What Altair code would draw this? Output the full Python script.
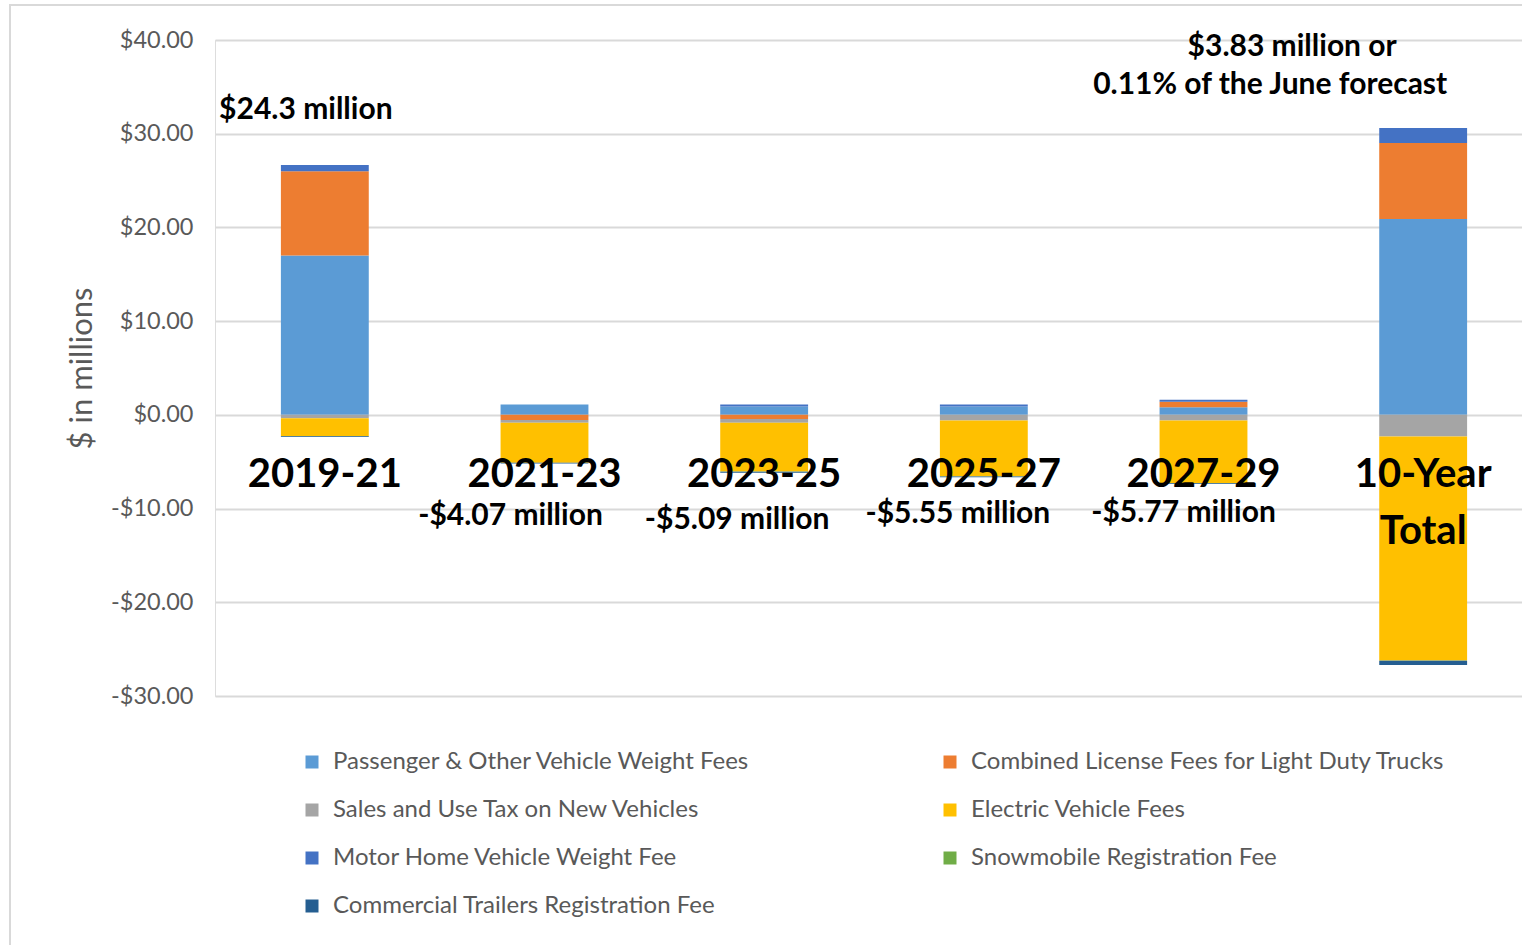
import altair as alt
import pandas as pd

categories = ["2019-21", "2021-23", "2023-25", "2025-27", "2027-29", "10-Year Total"]
cat_labels = ["2019-21", "2021-23", "2023-25", "2025-27", "2027-29", "10-Year\nTotal"]

series = [
    "Passenger & Other Vehicle Weight Fees",
    "Combined License Fees for Light Duty Trucks",
    "Sales and Use Tax on New Vehicles",
    "Electric Vehicle Fees",
    "Motor Home Vehicle Weight Fee",
    "Snowmobile Registration Fee",
    "Commercial Trailers Registration Fee",
]
colors = ["#5B9BD5", "#ED7D31", "#A5A5A5", "#FFC000", "#4472C4", "#70AD47", "#255E91"]

# legend is laid out column by column: left column first, then right column
legend_order = [0, 2, 4, 6, 1, 3, 5]

passenger = [17.0, 1.1, 0.9, 0.9, 0.8, 20.9]
combined = [9.0, -0.55, -0.45, 0.0, 0.6, 8.1]
sales_tax = [-0.35, -0.3, -0.4, -0.6, -0.6, -2.3]
electric = [-1.9, -4.25, -5.2, -5.95, -6.67, -23.9]
motor_home = [0.65, 0.0, 0.2, 0.2, 0.2, 1.6]
snowmobile = [-0.02, -0.02, -0.02, -0.02, -0.02, -0.05]
commercial = [-0.1, -0.07, -0.1, -0.08, -0.1, -0.45]

all_values = [passenger, combined, sales_tax, electric, motor_home, snowmobile, commercial]

rows = []
for si, s in enumerate(series):
    for ci, c in enumerate(categories):
        rows.append({"category": c, "series": s, "value": all_values[si][ci], "ord": si})
df = pd.DataFrame(rows)

FONT = "Lato"
GRAY = "#595959"

xscale = alt.Scale(domain=categories, range=[0, 1318], paddingInner=0.6, paddingOuter=0.3)
yscale = alt.Scale(domain=[-30, 40], nice=False, zero=False)

legend_domain = [series[i] for i in legend_order]
legend_range = [colors[i] for i in legend_order]

bars = alt.Chart(df).mark_bar().encode(
    x=alt.X("category:N", scale=xscale, axis=None, sort=categories),
    y=alt.Y(
        "value:Q",
        scale=yscale,
        stack="zero",
        axis=alt.Axis(
            values=[-30, -20, -10, 0, 10, 20, 30, 40],
            labelExpr="datum.value < 0 ? '-$' + format(abs(datum.value), '.2f') : '$' + format(datum.value, '.2f')",
            title="$ in millions",
            titleFont=FONT,
            titleFontSize=31,
            titleFontWeight="normal",
            titleColor=GRAY,
            titlePadding=12,
            labelFont=FONT,
            labelFontSize=23.5,
            labelColor=GRAY,
            labelPadding=22,
            domain=False,
            ticks=False,
            grid=True,
            gridColor="#d9d9d9",
            gridWidth=2,
        ),
    ),
    color=alt.Color(
        "series:N",
        scale=alt.Scale(domain=legend_domain, range=legend_range),
        legend=alt.Legend(
            title=None,
            orient="none",
            legendX=85,
            legendY=710,
            columns=2,
            symbolType="square",
            symbolSize=169,
            symbolStrokeWidth=0,
            labelFont=FONT,
            labelFontSize=24,
            labelColor=GRAY,
            labelLimit=600,
            labelOffset=9,
            rowPadding=24,
            columnPadding=187,
        ),
    ),
    order=alt.Order("ord:Q", sort="ascending"),
)

cat_df = pd.DataFrame({"category": categories, "label": cat_labels})
cat_text = alt.Chart(cat_df).mark_text(
    font=FONT, fontSize=40, fontWeight="bold", color="black",
    baseline="top", align="center", lineBreak="\n", dy=40, lineHeight=57,
).encode(
    x=alt.X("category:N", scale=xscale, sort=categories),
    y=alt.datum(0),
    text="label:N",
)

ann_texts = ["$24.3 million", "-$4.07 million", "-$5.09 million", "-$5.55 million",
             "-$5.77 million", "$3.83 million or", "0.11% of the June forecast"]
ann_cats = ["2019-21", "2021-23", "2023-25", "2025-27", "2027-29", "10-Year Total", "10-Year Total"]
ann_y = [32.5, -10.8, -11.2, -10.55, -10.5, 39.25, 35.2]
ann_dx = [-19, -34, -27, -26, -20, -131, -153]

ann_layers = []
for t, c, yv, dx in zip(ann_texts, ann_cats, ann_y, ann_dx):
    ann_layers.append(
        alt.Chart(pd.DataFrame({"category": [c], "y": [yv], "t": [t]})).mark_text(
            font=FONT, fontSize=30, fontWeight="bold", color="black",
            align="center", baseline="middle", dx=dx,
        ).encode(
            x=alt.X("category:N", scale=xscale, sort=categories),
            y=alt.Y("y:Q", scale=yscale),
            text="t:N",
        )
    )

border = alt.Chart(pd.DataFrame({"a": [0]})).mark_rect(
    fillOpacity=0, stroke="#d9d9d9", strokeWidth=2
).encode(
    x=alt.value(-205), x2=alt.value(1340), y=alt.value(-35), y2=alt.value(930)
)

chart = alt.layer(border, bars, cat_text, *ann_layers).properties(
    width=1307,
    height=656,
    autosize=alt.AutoSizeParams(type="none"),
    padding={"left": 215, "top": 40, "right": 0, "bottom": 249},
).configure_view(stroke=None).configure(background="white")

chart.save("out.html", embed_options={"renderer": "svg", "actions": False})
